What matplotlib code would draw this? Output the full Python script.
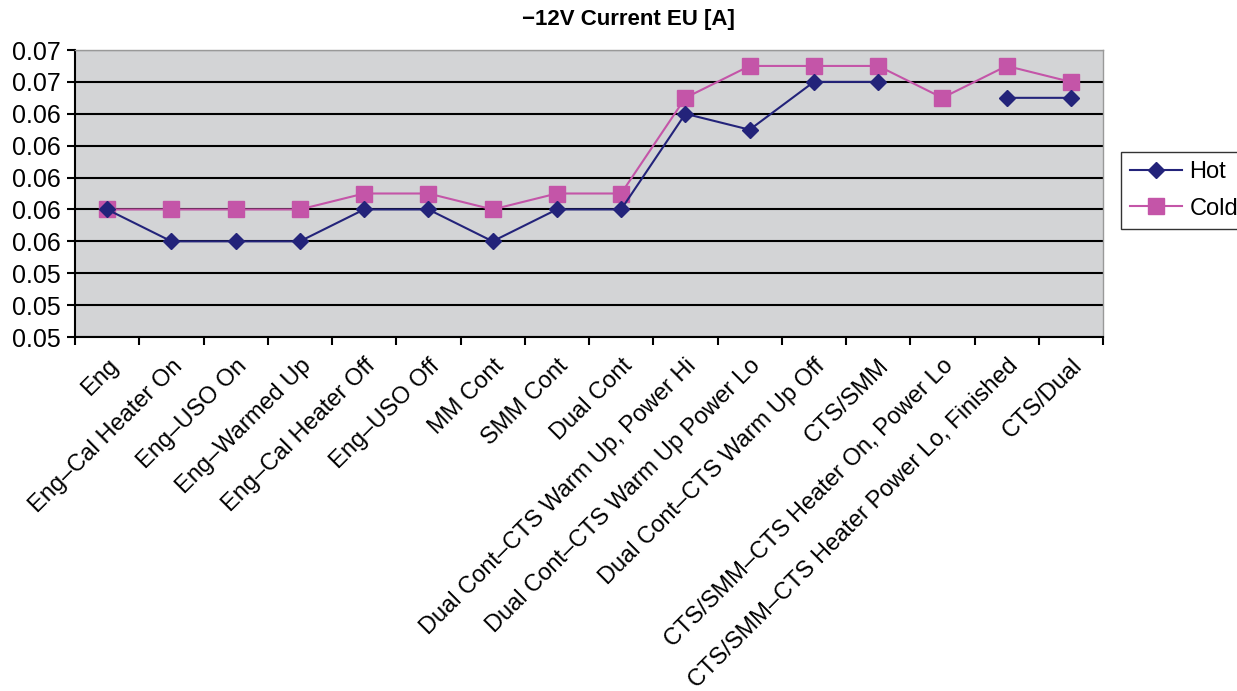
import matplotlib
matplotlib.use("Agg")
import matplotlib.pyplot as plt
import numpy as np
from matplotlib.ticker import FormatStrFormatter

categories = ["Eng", "Eng\u2013Cal Heater On", "Eng\u2013USO On", "Eng\u2013Warmed Up",
              "Eng\u2013Cal Heater Off", "Eng\u2013USO Off", "MM Cont", "SMM Cont", "Dual Cont",
              "Dual Cont\u2013CTS Warm Up, Power Hi", "Dual Cont\u2013CTS Warm Up Power Lo",
              "Dual Cont\u2013CTS Warm Up Off", "CTS/SMM", "CTS/SMM\u2013CTS Heater On, Power Lo",
              "CTS/SMM\u2013CTS Heater Power Lo, Finished", "CTS/Dual"]
hot = [0.058, 0.056, 0.056, 0.056, 0.058, 0.058, 0.056, 0.058, 0.058,
       0.064, 0.063, 0.066, 0.066, np.nan, 0.065, 0.065]
cold = [0.058, 0.058, 0.058, 0.058, 0.059, 0.059, 0.058, 0.059, 0.059,
        0.065, 0.067, 0.067, 0.067, 0.065, 0.067, 0.066]
yticks = [0.050, 0.052, 0.054, 0.056, 0.058, 0.060, 0.062, 0.064, 0.066, 0.068]

plt.rcParams['font.family'] = ['Liberation Sans', 'DejaVu Sans']

fig = plt.figure(figsize=(12.37, 6.91), dpi=100)
ax = fig.add_axes([75/1237, 1-337/691, (1103-75)/1237, (337-50)/691])
ax.set_facecolor('#D3D4D6')

x = np.arange(len(categories))
ax.plot(x, hot, color='#23237A', marker='D', markersize=8, linewidth=1.5, label='Hot', zorder=3)
ax.plot(x, cold, color='#C455A8', marker='s', markersize=12, linewidth=1.5, label='Cold', zorder=2)

ax.set_xlim(-0.5, len(categories) - 0.5)
ax.set_ylim(yticks[0], yticks[-1])
ax.set_yticks(yticks)
ax.yaxis.set_major_formatter(FormatStrFormatter('%.2f'))
ax.grid(axis='y', color='black', linewidth=1.5)
ax.set_axisbelow(True)

ax.set_xticks(np.arange(len(categories) + 1) - 0.5)
ax.set_xticklabels([])
ax.set_xticks(x, minor=True)
ax.set_xticklabels(categories, minor=True, rotation=45, ha='right', rotation_mode='anchor', fontsize=17)
ax.tick_params(axis='x', which='minor', length=0, pad=13)
ax.tick_params(axis='x', which='major', length=6, width=1.5, direction='out')
ax.tick_params(axis='y', length=6, width=1.5, labelsize=18, direction='out', pad=4)

for s in ['left', 'bottom']:
    ax.spines[s].set_color('black')
    ax.spines[s].set_linewidth(1.5)
for s in ['top', 'right']:
    ax.spines[s].set_color('#999999')
    ax.spines[s].set_linewidth(1.0)

fig.text(628/1237, 1-20/691, '\u221212V Current EU [A]', fontsize=16, fontweight='bold',
         ha='center', va='center')

leg = fig.legend(loc='upper left', bbox_to_anchor=(1121/1237, 1-152/691), frameon=True, fancybox=False,
                 edgecolor='black', fontsize=17, handlelength=2.2, handletextpad=0.3,
                 borderpad=0.4, labelspacing=0.6, borderaxespad=0)
leg.get_frame().set_linewidth(1.0)

fig.savefig('out.png', dpi=100, facecolor='white')
